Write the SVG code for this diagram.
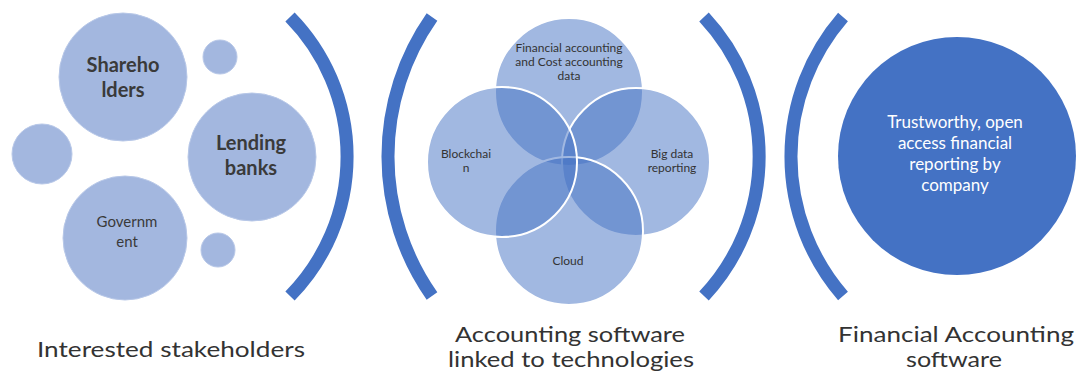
<svg xmlns="http://www.w3.org/2000/svg" width="1078" height="377" viewBox="0 0 1078 377">
<style>
.bg{fill:#ffffff}
.bubble{fill:#a3b7df;stroke:#b8c8e8;stroke-width:1}
.venn{fill:#4472c4;fill-opacity:0.5;stroke:#ffffff;stroke-width:2}
.dark{fill:#4472c4}
.bracket{fill:none;stroke:#4472c4;stroke-width:13}
.t{font-family:Lato,"Liberation Sans",sans-serif;text-anchor:middle;fill:#3a3a3a}
.tb{font-weight:bold}
.vt{font-size:12px;fill:#333333}
.wt{font-size:17px;fill:#ffffff}
.lab{font-size:20.5px;fill:#333333}
</style>
<rect class="bg" x="0" y="0" width="1078" height="377"/>

<g id="stakeholders">
  <g id="shareholders">
    <circle class="bubble" cx="123" cy="77" r="64"/>
    <text class="t tb" x="123" y="72" font-size="20">Shareho</text>
    <text class="t tb" x="123" y="97" font-size="20">lders</text>
  </g>
  <g id="small-top"><circle class="bubble" cx="220" cy="57" r="17"/></g>
  <g id="small-left"><circle class="bubble" cx="42" cy="154" r="30"/></g>
  <g id="lending-banks">
    <circle class="bubble" cx="252" cy="157" r="64"/>
    <text class="t tb" x="251" y="150" font-size="20">Lending</text>
    <text class="t tb" x="251" y="175" font-size="20">banks</text>
  </g>
  <g id="government">
    <circle class="bubble" cx="125" cy="238" r="62"/>
    <text class="t" x="127" y="227" font-size="15">Governm</text>
    <text class="t" x="127" y="247" font-size="15">ent</text>
  </g>
  <g id="small-bottom"><circle class="bubble" cx="218" cy="250" r="17"/></g>
</g>

<g id="venn">
  <g id="financial-data">
    <circle class="venn" cx="569" cy="92" r="74"/>
  </g>
  <g id="big-data">
    <circle class="venn" cx="636" cy="162" r="74"/>
  </g>
  <g id="cloud">
    <circle class="venn" cx="569" cy="231" r="74"/>
  </g>
  <g id="blockchain">
    <circle class="venn" cx="502" cy="162" r="75"/>
  </g>
  <g id="venn-texts">
    <text class="t vt" x="569" y="52">Financial accounting</text>
    <text class="t vt" x="569" y="66">and Cost accounting</text>
    <text class="t vt" x="569" y="80">data</text>
    <text class="t vt" x="466" y="158">Blockchai</text>
    <text class="t vt" x="466" y="172">n</text>
    <text class="t vt" x="672" y="158">Big data</text>
    <text class="t vt" x="672" y="172">reporting</text>
    <text class="t vt" x="568" y="265">Cloud</text>
  </g>
</g>

<g id="financial-software">
  <circle class="dark" cx="957" cy="156" r="119"/>
  <text class="t wt" x="955" y="128">Trustworthy, open</text>
  <text class="t wt" x="955" y="149">access financial</text>
  <text class="t wt" x="955" y="170">reporting by</text>
  <text class="t wt" x="955" y="191">company</text>
</g>

<g id="connectors">
  <path class="bracket" d="M290,17 A199,199 0 0 1 290,296"/>
  <path class="bracket" d="M432,17 A243,243 0 0 0 432,296"/>
  <path class="bracket" d="M704,17 A204,204 0 0 1 704,296"/>
  <path class="bracket" d="M843,17 A213,213 0 0 0 843,296"/>
</g>

<g id="labels">
  <text class="t lab" x="171" y="357" textLength="268" lengthAdjust="spacingAndGlyphs">Interested stakeholders</text>
  <text class="t lab" x="570" y="342" textLength="230" lengthAdjust="spacingAndGlyphs">Accounting software</text>
  <text class="t lab" x="571" y="367" textLength="246" lengthAdjust="spacingAndGlyphs">linked to technologies</text>
  <text class="t lab" x="956" y="342" textLength="236" lengthAdjust="spacingAndGlyphs">Financial Accounting</text>
  <text class="t lab" x="954" y="367" textLength="96" lengthAdjust="spacingAndGlyphs">software</text>
</g>
</svg>
